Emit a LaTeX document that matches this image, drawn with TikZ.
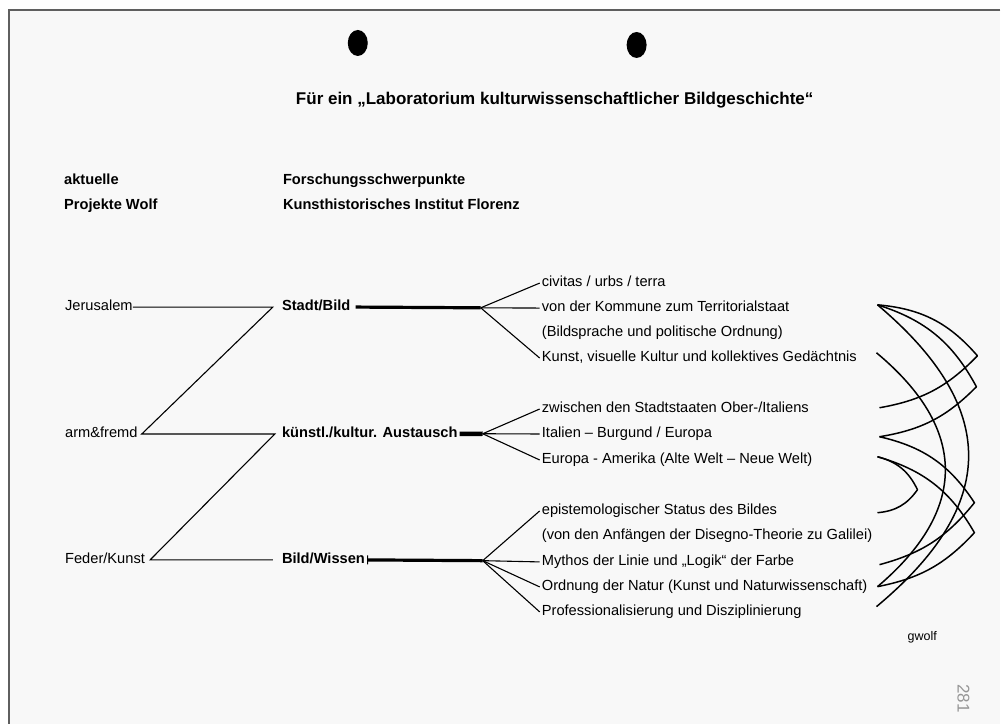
\documentclass[tikz,border=0pt]{standalone}
\usepackage{fontspec}
\setmainfont{Liberation Sans}
\usetikzlibrary{arrows.meta}
\definecolor{paper}{RGB}{248,248,248}
\definecolor{frameg}{RGB}{95,95,95}
\definecolor{stampg}{RGB}{150,150,150}

\begin{document}
\begin{tikzpicture}[x=1pt,y=-1pt,
    txt/.style={anchor=base west, inner xsep=0pt, inner ysep=0pt, text height=10.5pt, text depth=3pt, font=\fontsize{14.65}{17}\selectfont},
    head/.style={txt, font=\fontsize{14.65}{17}\selectfont\bfseries},
    link/.style={line width=1.1pt},
    stem/.style={line width=3.2pt},
    swing/.style={line width=1.5pt, line join=round}]

            % Sheet and frame
            \fill[white] (0,0) rectangle (1001,724);
            \fill[paper] (9,10) rectangle (1001,724);
            \draw[frameg, line width=1.2pt] (1001,10) -- (9,10) -- (9,724);
            \useasboundingbox (0,0) rectangle (1001,724);

            % Punch holes
            \fill (358,43) ellipse [x radius=10pt, y radius=13pt];
            \fill (637,45) ellipse [x radius=10pt, y radius=13pt];

            % Title and column heads
            \node[head, anchor=base, font=\fontsize{17}{20}\selectfont\bfseries] (title) at (555,105) {Für ein „Laboratorium kulturwissenschaftlicher Bildgeschichte“};
            \node[head] (akt) at (64,185) {aktuelle};
            \node[head] (proj) at (64,210) {Projekte Wolf};
            \node[head] (forsch) at (283,185) {Forschungsschwerpunkte};
            \node[head] (khi) at (283,210) {Kunsthistorisches Institut Florenz};

            % Projects
            \node[txt] (jer) at (65,311) {Jerusalem};
            \node[txt] (arm) at (65,438) {arm\&fremd};
            \node[txt] (feder) at (65,564) {Feder/Kunst};

            % Focal points
            \node[head] (stadt) at (282,311) {Stadt/Bild};
            \node[head] (aust) at (282,438) {künstl./kultur. Austausch};
            \node[head] (wiss) at (282,564) {Bild/Wissen};

            % Topics
            \node[txt] (civ) at (542,287) {civitas / urbs / terra};
            \node[txt] (komm) at (542,312) {von der Kommune zum Territorialstaat};
            \node[txt] (ordn) at (542,337) {(Bildsprache und politische Ordnung)};
            \node[txt] (gedae) at (542,362) {Kunst, visuelle Kultur und kollektives Gedächtnis};
            \node[txt] (ober) at (542,413) {zwischen den Stadtstaaten Ober-/Italiens};
            \node[txt] (burg) at (542,438) {Italien -- Burgund / Europa};
            \node[txt] (amer) at (542,464) {Europa - Amerika (Alte Welt -- Neue Welt)};
            \node[txt] (epist) at (542,515) {epistemologischer Status des Bildes};
            \node[txt] (dise) at (542,540) {(von den Anfängen der Disegno-Theorie zu Galilei)};
            \node[txt] (myth) at (542,566) {Mythos der Linie und „Logik“ der Farbe};
            \node[txt] (natur) at (542,591) {Ordnung der Natur (Kunst und Naturwissenschaft)};
            \node[txt] (prof) at (542,616) {Professionalisierung und Disziplinierung};

            % Zigzag
            \draw[link] (jer.east) -- ([xshift=-9pt]stadt.west) -- ([xshift=4pt]arm.east)
                -- ([xshift=-7pt]aust.west) -- ([xshift=5pt]feder.east) -- ([xshift=-9pt]wiss.west);

            % Stems and fans
            \coordinate (fs) at (481,308);
            \coordinate (fa) at (483,434);
            \coordinate (fw) at (483,561);
            \draw[stem] ([xshift=5pt]stadt.east) -- (fs);
            \draw[stem, line width=4.5pt] ([xshift=2pt]aust.east) -- (fa);
            \draw[stem, {Bar[width=9pt,line width=1pt]}-] ([xshift=2pt]wiss.east) -- (fw);
            \draw[link] (fs) -- ([xshift=-2pt]civ.west);
            \draw[link] (fs) -- ([xshift=-2pt]komm.west);
            \draw[link] (fs) -- ([xshift=-2pt]gedae.west);
            \draw[link] (fa) -- ([xshift=-2pt]ober.west);
            \draw[link] (fa) -- ([xshift=-2pt]burg.west);
            \draw[link] (fa) -- ([xshift=-2pt]amer.west);
            \draw[link] (fw) -- ([xshift=-2pt]epist.west);
            \draw[link] (fw) -- ([xshift=-2pt]myth.west);
            \draw[link] (fw) -- ([xshift=-2pt]natur.west);
            \draw[link] (fw) -- ([xshift=-2pt]prof.west);

            % Swings on the right
            \coordinate (k1) at (878,305);
            \coordinate (k2) at (877,353);
            \coordinate (z1) at (880,408);
            \coordinate (z2) at (880,437);
            \coordinate (z3) at (878,457);
            \coordinate (e1) at (878,513);
            \coordinate (e2) at (880,565);
            \coordinate (e3) at (878,587);
            \coordinate (e4) at (877,607);
            \coordinate (t1) at (978,356);
            \coordinate (t2) at (977,387);
            \coordinate (t3) at (975,503);
            \coordinate (t4) at (975,533);
            \coordinate (t5) at (918,490);
            \draw[swing] (k1) to[bend left=22] (t1) to[bend left=18] (z1);
            \draw[swing] (k1) to[bend left=22] (t2) to[bend left=18] (z2);
            \draw[swing] (z2) to[bend left=22] (t3) to[bend left=18] (e2);
            \draw[swing] (z3) to[bend left=22] (t4) to[bend left=18] (e3);
            \draw[swing] (z3) to[bend left=25] (t5) to[bend left=25] (e1);
            \draw[swing] (k1) to[bend left=50, looseness=1.35] (e4);
            \draw[swing] (k2) to[bend left=50, looseness=1.3] (e3);

            % Signature and folio
            \node[txt, font=\fontsize{12.5}{14}\selectfont] (sig) at (908,641) {gwolf};
            \node[stampg, rotate=-90, font=\fontsize{17}{18}\selectfont] (folio) at (964,699) {281};
        \end{tikzpicture}
\end{document}
